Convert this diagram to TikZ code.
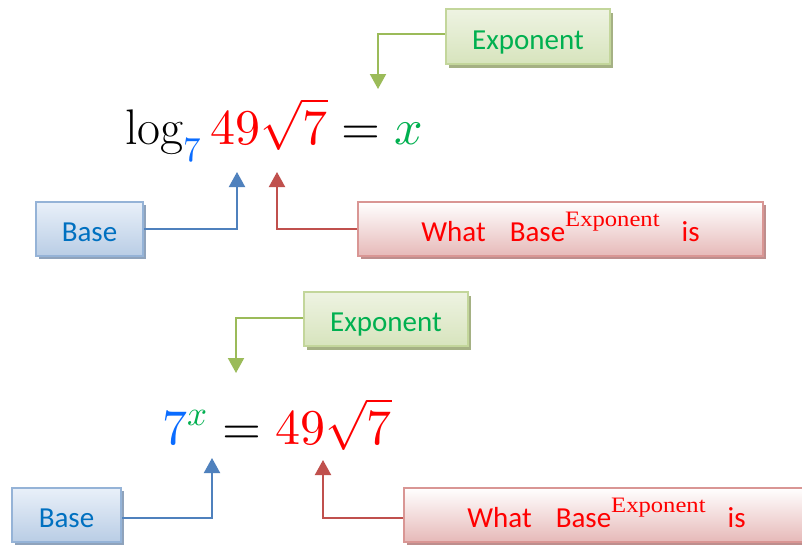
\documentclass[tikz,border=0pt]{standalone}
\usepackage{fontspec}
\usepackage{unicode-math}
\newfontfamily\labelfont{Carlito}
\newfontfamily\supfont[FakeStretch=1.12]{Liberation Serif}
\usetikzlibrary{arrows.meta,shadows}
\definecolor{mblue}{HTML}{0A6CFF}
\definecolor{mred}{HTML}{FF0000}
\definecolor{mgreen}{HTML}{00B050}
\definecolor{bbord}{HTML}{95B3D7}
\definecolor{btop}{HTML}{E9F0F9}
\definecolor{bbot}{HTML}{B9CDE5}
\definecolor{btext}{HTML}{0070C0}
\definecolor{bshad}{HTML}{8FA3BC}
\definecolor{barrow}{HTML}{4F81BD}
\definecolor{gbord}{HTML}{C3D69B}
\definecolor{gtop}{HTML}{EEF3E2}
\definecolor{gbot}{HTML}{D7E4BD}
\definecolor{gshad}{HTML}{A5B184}
\definecolor{garrow}{HTML}{9BBB59}
\definecolor{rbord}{HTML}{D99694}
\definecolor{rtop}{HTML}{FFFFFF}
\definecolor{rbot}{HTML}{E6B9B8}
\definecolor{rshad}{HTML}{BE8E8D}
\definecolor{rarrow}{HTML}{C0504D}
\tikzset{
  box/.style={draw, line width=2pt, inner sep=0pt, text height=25pt, text depth=0pt,
     font=\labelfont\fontsize{29}{33}\selectfont},
  bluebox/.style={box, draw=bbord, top color=btop, bottom color=bbot, text=btext,
     drop shadow={shadow xshift=3pt, shadow yshift=-3pt, fill=bshad, opacity=1}},
  greenbox/.style={box, draw=gbord, top color=gtop, bottom color=gbot, text=mgreen,
     drop shadow={shadow xshift=3pt, shadow yshift=-4pt, fill=gshad, opacity=1}},
  redbox/.style={box, draw=rbord, top color=rtop, bottom color=rbot, text=mred,
     drop shadow={shadow xshift=3pt, shadow yshift=-3pt, fill=rshad, opacity=1}},
  conn/.style={line width=2pt, -{Triangle[width=16pt,length=15pt]}},
  eq/.style={inner sep=0pt, anchor=base west, font=\fontsize{50}{60}\selectfont}
}
\newcommand{\whatlabel}{What\hspace{24pt}Base\raisebox{15pt}{\supfont\fontsize{22}{26}\selectfont Exponent}\hspace{22pt}is}
\begin{document}
\begin{tikzpicture}[x=1pt,y=-1pt]
\useasboundingbox (0,0) rectangle (802,544);
\clip (0,0) rectangle (802,544);
\fill[white] (0,0) rectangle (802,544);

% ---- top part ----
\node[eq] (eqtop) at (125,144) {$\log_{\color{mblue}7}{\color{mred}49\sqrt{7}} = {\color{mgreen}x}$};
\node[greenbox, minimum width=164pt, minimum height=55pt] (g1) at (528,36.5) {Exponent};
\node[bluebox, minimum width=107pt, minimum height=54pt] (b1) at (89.5,229) {Base};
\node[redbox, minimum width=405pt, minimum height=54pt] (r1) at (560.5,229) {\whatlabel};
\coordinate (tg1) at (378,89);
\coordinate (tb1) at (237,172);
\coordinate (tr1) at (277,172);
\draw[conn, garrow] ([yshift=3pt]g1.west) -| (tg1);
\draw[conn, barrow] (b1.east) -| (tb1);
\draw[conn, rarrow] (r1.west) -| (tr1);

% ---- bottom part ----
\node[eq] (eqbot) at (162,444) {${\color{mblue}7}^{\color{mgreen}x} = {\color{mred}49\sqrt{7}}$};
\node[greenbox, minimum width=164pt, minimum height=54pt] (g2) at (386,319) {Exponent};
\node[bluebox, minimum width=109pt, minimum height=54pt] (b2) at (66.5,515) {Base};
\node[redbox, minimum width=405pt, minimum height=54pt] (r2) at (606.5,515) {\whatlabel};
\coordinate (tg2) at (236,373);
\coordinate (tb2) at (212,458);
\coordinate (tr2) at (323,460);
\draw[conn, garrow] ([yshift=1pt]g2.west) -| (tg2);
\draw[conn, barrow] ([yshift=-3pt]b2.east) -| (tb2);
\draw[conn, rarrow] ([yshift=-3pt]r2.west) -| (tr2);
\end{tikzpicture}
\end{document}
